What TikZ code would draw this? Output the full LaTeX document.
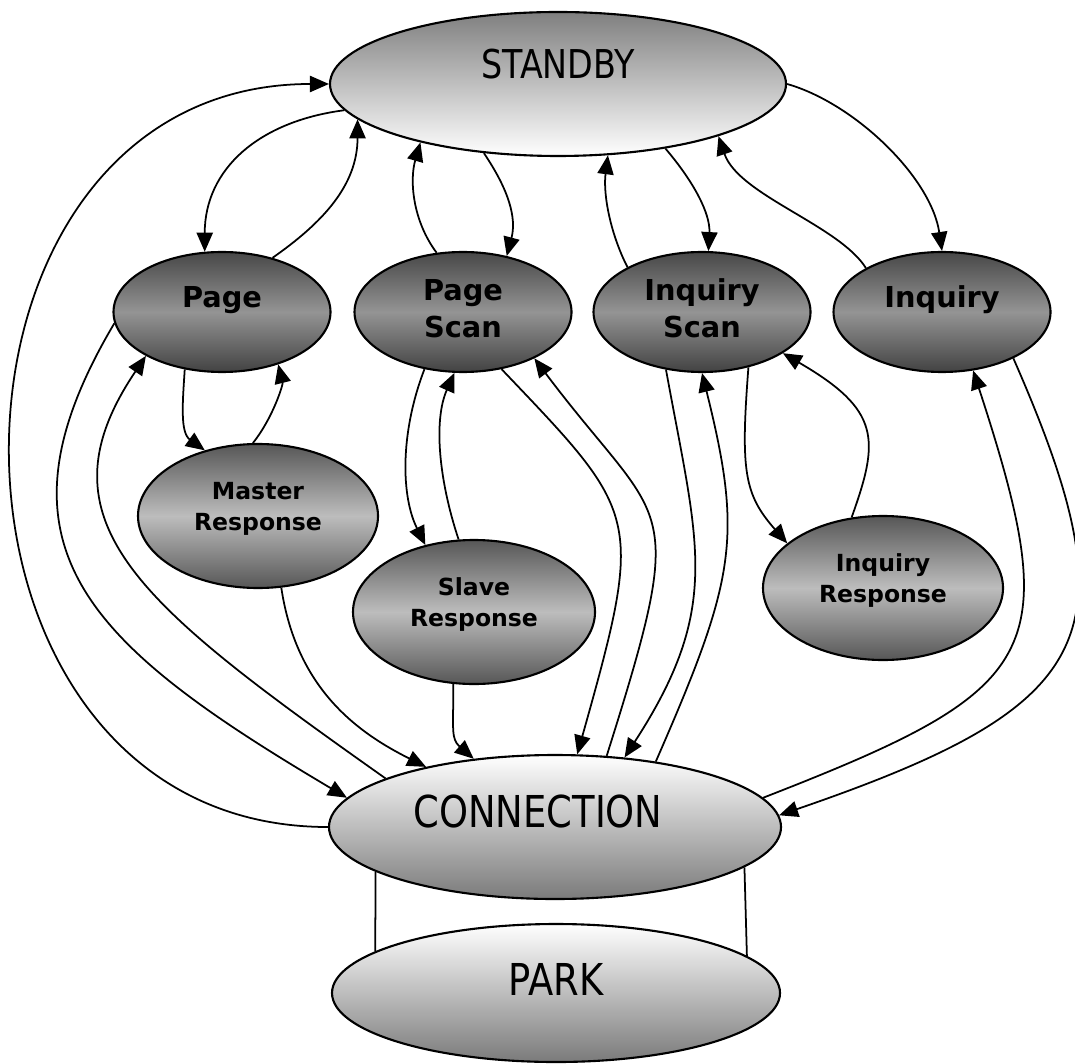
\documentclass[tikz,border=0pt]{standalone}
\usepackage{fontspec}
\setmainfont{DejaVu Sans}
\newfontfamily\narrowsans[FakeStretch=0.84]{DejaVu Sans}
\usetikzlibrary{shapes.geometric, arrows.meta}

\begin{document}
\begin{tikzpicture}
    \tikzstyle{idlest} = [ellipse, draw, line width=0.6pt, inner sep=0pt, top color=black!50, bottom color=white, font=\narrowsans\fontsize{11.3}{13}\selectfont]
    \tikzstyle{linkst} = [ellipse, draw, line width=0.6pt, inner sep=0pt, top color=white, bottom color=black!52, font=\narrowsans\fontsize{12.5}{14}\selectfont]
    \tikzstyle{modest} = [ellipse, draw, line width=0.6pt, inner sep=0pt, minimum width=2.17cm, minimum height=1.20cm, top color=black!72, bottom color=black!74, middle color=black!42, align=center, font=\fontsize{8.2}{10.5}\selectfont\bfseries]
    \tikzstyle{respst} = [ellipse, draw, line width=0.6pt, inner sep=0pt, minimum width=2.40cm, minimum height=1.44cm, top color=black!66, bottom color=black!66, middle color=black!26, align=center, text depth=0.19cm, font=\fontsize{6.7}{8.8}\selectfont\bfseries]
    \tikzstyle{tran} = [line width=0.5pt, -{Triangle[length=5.4pt, width=4.6pt]}]
    \tikzstyle{tie} = [line width=0.5pt]

    \useasboundingbox (0,0) rectangle (10.75,-10.63);

    % States
    \node[idlest, minimum width=4.56cm, minimum height=1.44cm, text height=0.29cm, text depth=0.40cm] (standby) at (5.58,-0.84) {STANDBY};
    \node[modest, text height=0.21cm, text depth=0.29cm] (page) at (2.22,-3.12) {Page};
    \node[modest, text depth=0.07cm] (pagescan) at (4.63,-3.12) {Page\\Scan};
    \node[modest, text depth=0.07cm] (inqscan) at (7.02,-3.12) {Inquiry\\Scan};
    \node[modest, text height=0.21cm, text depth=0.29cm] (inquiry) at (9.42,-3.12) {Inquiry};
    \node[respst] (masterresp) at (2.58,-5.16) {Master\\Response};
    \node[respst, minimum width=2.42cm] (slaveresp) at (4.74,-6.12) {Slave\\Response};
    \node[respst] (inqresp) at (8.83,-5.88) {Inquiry\\Response};
    \node[linkst, minimum width=4.52cm, minimum height=1.44cm, text height=0.32cm, text depth=0.32cm] (connection) at (5.55,-8.27) {CONNECTION\hspace*{0.34cm}};
    \node[linkst, minimum width=4.48cm, minimum height=1.38cm, text height=0.32cm, text depth=0.28cm] (park) at (5.56,-9.93) {PARK};

    % Standby and the paging side
    \draw[tran] (standby.187) .. controls +(-0.85,-0.11) and +(0,0.83) .. (page.106);
    \draw[tran] (page.47) .. controls +(0.50,0.35) and +(0,-0.66) .. (standby.190);
    \draw[tran] (page.237) .. controls +(-0.02,-0.32) and +(-0.25,0.18) .. (masterresp.129);
    \draw[tran] (masterresp.94) .. controls +(0.20,0.25) and +(0.05,-0.20) .. (page.317);
    \draw[tran] (page.186) .. controls +(-1.33,-2.24) and +(-2.58,1.53) .. (connection.172);
    \draw[tran] (connection.164) .. controls +(-2.46,1.74) and +(-1.12,-1.66) .. (page.210);
    \draw[tran] (masterresp.288) .. controls +(0.15,-1.00) and +(-0.70,0.35) .. (connection.155);

    \draw[tran] (pagescan.114) .. controls +(-0.24,0.32) and +(-0.11,-0.38) .. (standby.203);
    \draw[tran] (standby.223) .. controls +(0.25,-0.37) and +(0.10,0.38) .. (pagescan.52);
    \draw[tran] (pagescan.236) .. controls +(-0.25,-0.65) and +(-0.24,0.48) .. (slaveresp.126);
    \draw[tran] (slaveresp.102) .. controls +(-0.20,0.60) and +(-0.21,-0.47) .. (pagescan.262);
    \draw[tran] (slaveresp.254) .. controls +(0,-0.45) and +(-0.23,0.20) .. (connection.140);
    \draw[tran] (pagescan.304) .. controls +(1.39,-1.46) and +(0.675,2.40) .. (connection.73);
    \draw[tran] (connection.54) .. controls +(0.84,2.66) and +(1.30,-1.73) .. (pagescan.327);

    % Standby and the inquiry side
    \draw[tran] (inqscan.149) .. controls +(-0.17,0.33) and +(-0.05,-0.39) .. (standby.305);
    \draw[tran] (standby.329) .. controls +(0.29,-0.34) and +(0.02,0.37) .. (inqscan.84);
    \draw[tran] (inqscan.238) .. controls +(0.32,-1.76) and +(0.98,1.51) .. (connection.45);
    \draw[tran] (connection.33) .. controls +(0.80,1.83) and +(0.41,-1.65) .. (inqscan.270);
    \draw[tran] (inqscan.310) .. controls +(-0.08,-1.04) and +(-0.43,0.49) .. (inqresp.155);
    \draw[tran] (inqresp.114) .. controls +(0.28,0.78) and +(0.98,-0.57) .. (inqscan.333);

    \draw[tran] (inquiry.150) .. controls +(-0.27,0.43) and +(0.20,-0.59) .. (standby.342);
    \draw[tran] (standby.east) .. controls +(0.67,-0.19) and +(-0.11,0.74) .. (inquiry.north);
    \draw[tran] (connection.8) .. controls +(2.80,1.09) and +(0.93,-2.85) .. (inquiry.298);
    \draw[tran] (inquiry.327) .. controls +(1.22,-2.78) and +(3.20,1.10) .. (connection.3);

    % Connection back to standby, and park
    \draw[tran] (connection.west) .. controls +(-4.23,0) and +(-4.23,0) .. (standby.west);
    \draw[tie] (connection.194) -- (park.167);
    \draw[tie] (connection.348) -- (park.11.5);
\end{tikzpicture}
\end{document}
